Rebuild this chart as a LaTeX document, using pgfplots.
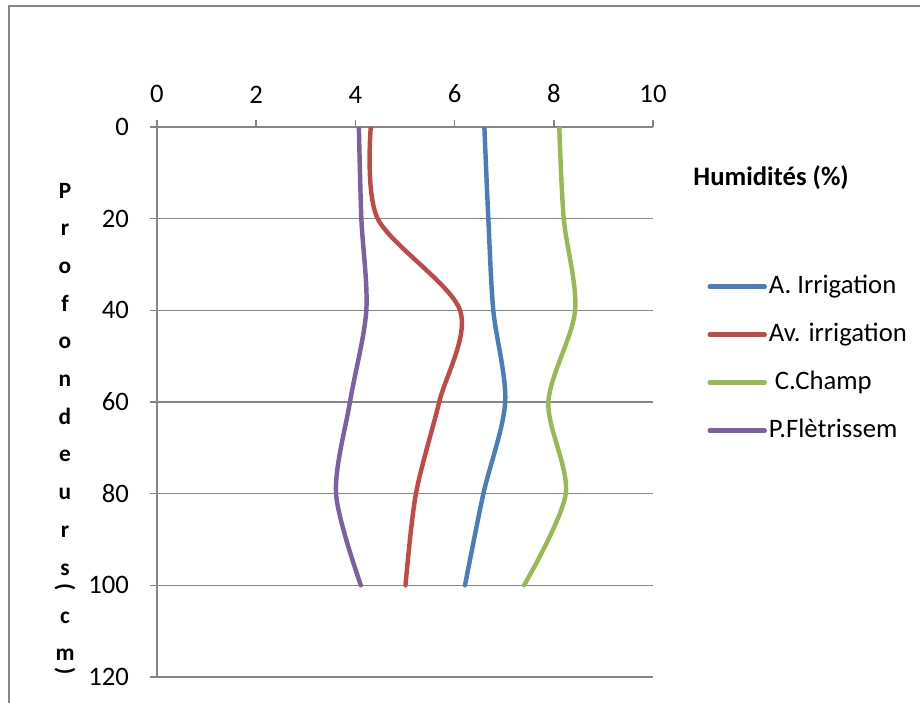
\documentclass[border=0pt]{standalone}
\usepackage{fontspec}
\setmainfont{Carlito}
\usepackage{pgfplots}
\pgfplotsset{compat=1.18}
\definecolor{cblue}{RGB}{74,126,187}
\definecolor{cred}{RGB}{190,75,72}
\definecolor{cgreen}{RGB}{152,185,84}
\definecolor{cpurple}{RGB}{125,96,160}
\definecolor{axgray}{RGB}{134,134,134}
\begin{document}
\fontsize{12}{14.4}\selectfont
\begin{tikzpicture}
\useasboundingbox (0,0) rectangle (414pt,-315.9pt);
\draw[draw=axgray, line width=0.7pt] (4.05pt,-330pt) -- (4.05pt,-2.7pt) -- (430pt,-2.7pt);
\begin{axis}[
  at={(70.65pt,-304.65pt)}, anchor=south west,
  scale only axis, width=223.2pt, height=247.5pt,
  xmin=0, xmax=10, ymin=0, ymax=120, y dir=reverse,
  axis x line*=top, axis y line*=left,
  ymajorgrids, grid style={axgray, line width=0.7pt},
  axis line style={axgray, line width=0.7pt},
  tick style={axgray, line width=0.7pt},
  tick align=outside, major tick length=3pt,
  xtick={0,2,...,10}, ytick={0,20,...,120},
  /pgf/number format/assume math mode=true,
  ticklabel style={font=\fontsize{12}{14.4}\selectfont, text=black},
  x tick label style={yshift=3.6pt},
  y tick label style={xshift=-5.4pt},
  legend style={at={(1.109,0.579)}, anchor=west, draw=none, fill=none,
    inner sep=0pt, row sep=10.6pt, font=\fontsize{12}{14.4}\selectfont,
    nodes={inner sep=0pt, inner xsep=0.9pt, text height=8.5pt, text depth=2.5pt}},
  legend cell align=left,
  legend image code/.code={\draw[#1, line cap=round] (0pt,0pt) -- (24.75pt,0pt);},
  every axis plot/.append style={line width=2pt, smooth, tension=0.5, line cap=round, line join=round},
]
\addplot[cblue] table {
x y
6.60 0
6.68 20
6.78 40
7.02 60
6.58 80
6.21 100
};
\addlegendentry{A. Irrigation}
\addplot[cred] table {
x y
4.31 0
4.45 20
6.11 40
5.69 60
5.22 80
5.01 100
};
\addlegendentry{Av. irrigation}
\addplot[cgreen] table {
x y
8.11 0
8.20 20
8.43 40
7.89 60
8.24 80
7.40 100
};
\addlegendentry{\ C.Champ}
\addplot[cpurple] table {
x y
4.07 0
4.12 20
4.22 40
3.89 60
3.61 80
4.11 100
};
\addlegendentry{P.Flètrissem}
\end{axis}
\node[anchor=base west, font=\bfseries\fontsize{12}{14.4}\selectfont, inner sep=0pt] at (311.85pt,-83.25pt) {Humidités (\%)};
\foreach \l/\b in {P/89.1, r/106.07, o/123.03, f/140.0, o/156.96, n/173.93, d/190.89, e/207.86, u/224.82, r/241.79, s/258.75, c/280.35, m/297.0}
  \node[anchor=base, inner sep=0pt, font=\bfseries\fontsize{10.5}{12}\selectfont] at (29.25pt,-\b pt) {\l};
\node[inner sep=0pt, rotate=-90, font=\bfseries\fontsize{10.5}{12}\selectfont] at (29.25pt,-264.15pt) {(};
\node[inner sep=0pt, rotate=-90, font=\bfseries\fontsize{10.5}{12}\selectfont] at (29.25pt,-301.95pt) {)};
\end{tikzpicture}
\end{document}
